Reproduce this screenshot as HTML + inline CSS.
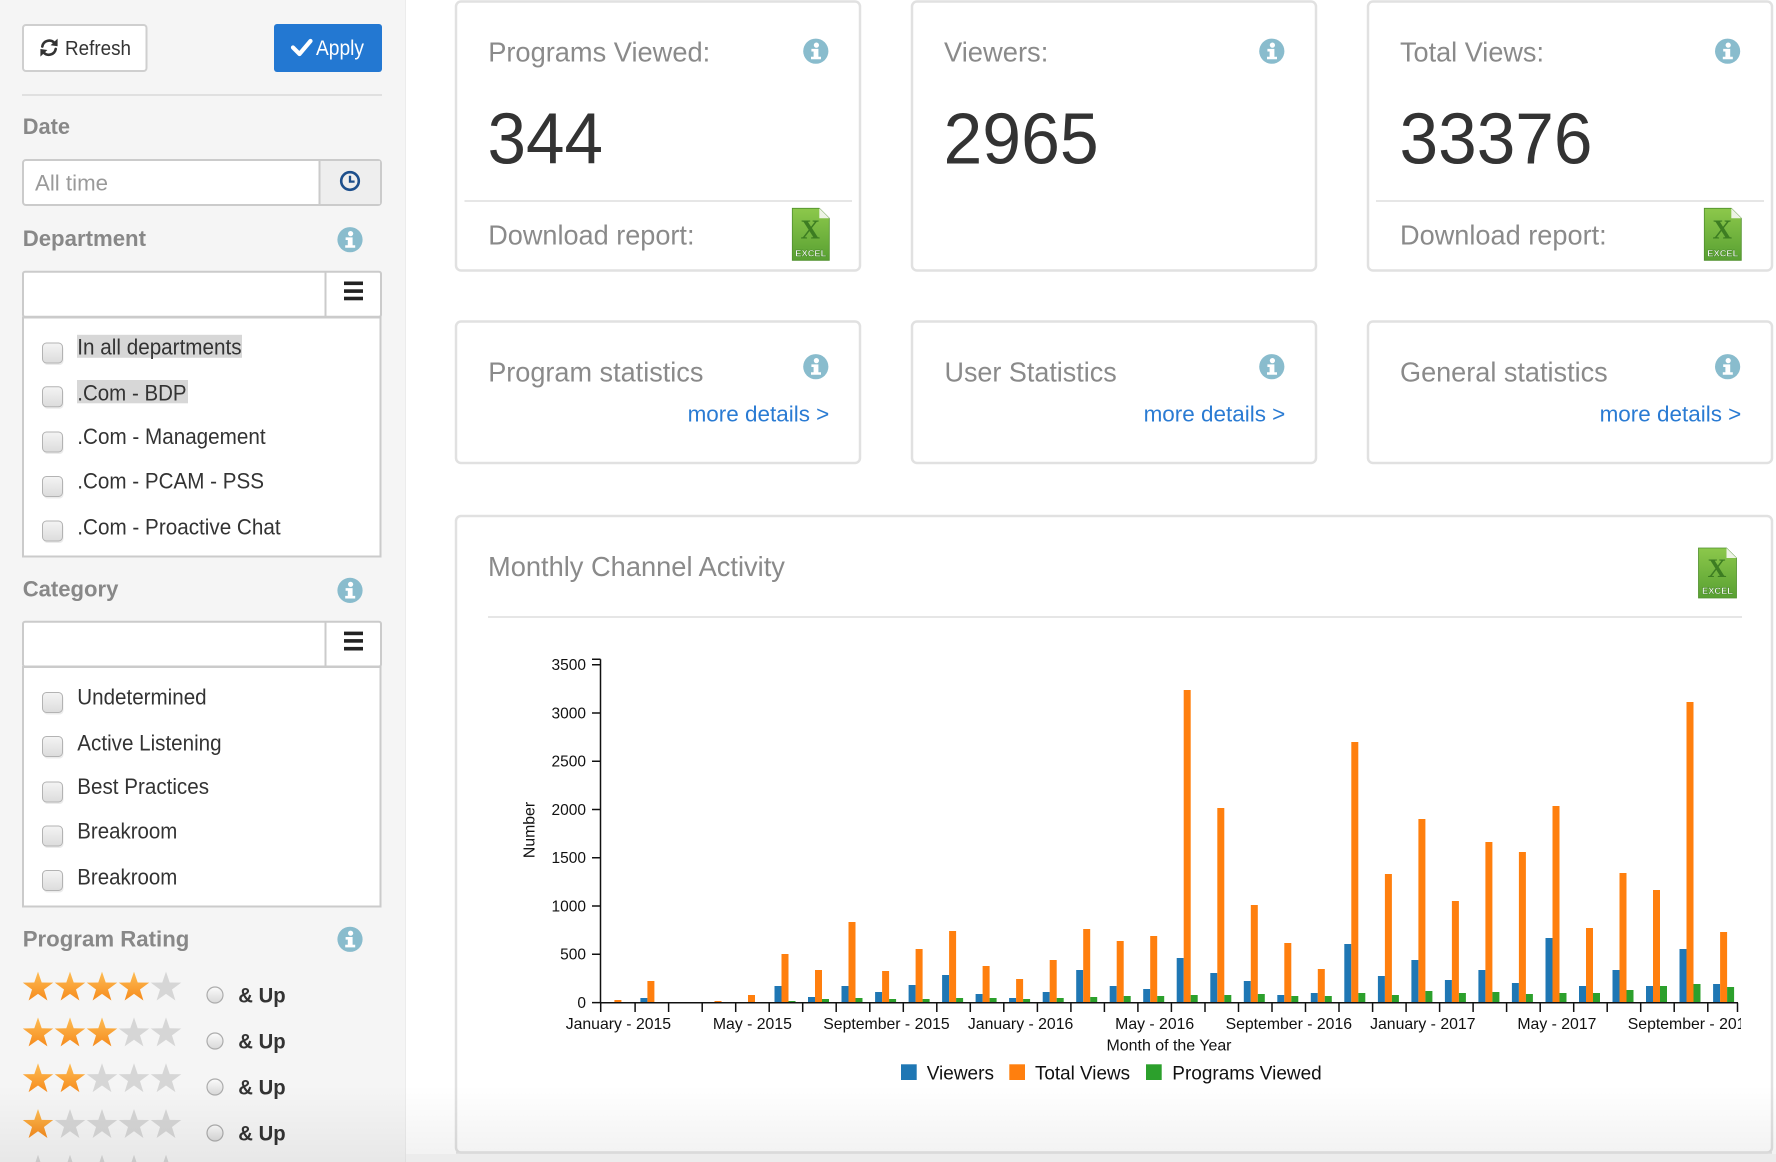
<!DOCTYPE html>
<html>
<head>
<meta charset="utf-8">
<style>
html,body{margin:0;padding:0;background:#fff;width:1776px;height:1162px;overflow:hidden;}
svg{display:block;}
</style>
</head>
<body>
<svg width="1776" height="1162" viewBox="0 0 1776 1162" xmlns="http://www.w3.org/2000/svg" font-family="'Liberation Sans', Arial, Helvetica, sans-serif">
<defs>
  <linearGradient id="starO" x1="0" y1="0" x2="0" y2="1">
    <stop offset="0" stop-color="#fdbd55"/><stop offset="1" stop-color="#f68b1c"/>
  </linearGradient>
  <linearGradient id="cbg" x1="0" y1="0" x2="0" y2="1">
    <stop offset="0" stop-color="#f4f4f4"/><stop offset="1" stop-color="#dcdcdc"/>
  </linearGradient>
  <linearGradient id="rg" x1="0" y1="0" x2="0" y2="1">
    <stop offset="0" stop-color="#fbfbfb"/><stop offset="1" stop-color="#d8d8d8"/>
  </linearGradient>
  <linearGradient id="xl" x1="0" y1="0" x2="0" y2="1">
    <stop offset="0" stop-color="#8cc84b"/><stop offset="1" stop-color="#58a032"/>
  </linearGradient>
  <linearGradient id="fade" x1="0" y1="0" x2="0" y2="1">
    <stop offset="0" stop-color="#000" stop-opacity="0"/><stop offset="1" stop-color="#000" stop-opacity="0.055"/>
  </linearGradient>
  <clipPath id="chartclip"><rect x="440" y="600" width="1301" height="500"/></clipPath>
</defs>

<!-- Sidebar -->
<rect x="0" y="0" width="405" height="1162" fill="#f5f5f5"/>
<line x1="405.5" y1="0" x2="405.5" y2="1162" stroke="#ececec" stroke-width="1"/>

<!-- Refresh button -->
<rect x="23" y="25" width="123.5" height="46" rx="3" fill="#fff" stroke="#cfcfcf" stroke-width="2"/>
<g stroke="#333" stroke-width="2.6" fill="none" stroke-linecap="round">
  <path d="M42.3 46.5 A7 7 0 0 1 54.6 43.2"/>
  <path d="M55.7 49 A7 7 0 0 1 43.4 52.2"/>
</g>
<polygon points="57.6,38.6 57.6,46.2 50.6,45.2" fill="#333"/>
<polygon points="40.4,56.6 40.4,49 47.4,50" fill="#333"/>
<text x="65" y="54.8" font-size="20.5" fill="#333" textLength="66" lengthAdjust="spacingAndGlyphs">Refresh</text>

<!-- Apply button -->
<rect x="274" y="24" width="108" height="48" rx="3" fill="#2378d2"/>
<polyline points="293,47.5 299.5,54 310.5,41" fill="none" stroke="#fff" stroke-width="4.2" stroke-linecap="round" stroke-linejoin="round"/>
<text x="316" y="55" font-size="21" fill="#fff" textLength="48" lengthAdjust="spacingAndGlyphs">Apply</text>

<line x1="22" y1="95" x2="382" y2="95" stroke="#e0e0e0" stroke-width="2"/>

<!-- Date -->
<text x="22.7" y="134" font-size="22.5" font-weight="bold" fill="#888" textLength="47.3" lengthAdjust="spacingAndGlyphs">Date</text>
<rect x="23" y="160" width="358" height="45" rx="3" fill="#fff" stroke="#cbcbcb" stroke-width="2"/>
<rect x="320" y="161" width="60" height="43" fill="#eeeeee"/>
<line x1="319.5" y1="160" x2="319.5" y2="205" stroke="#cbcbcb" stroke-width="2"/>
<text x="35" y="190.5" font-size="22.5" fill="#9a9a9a" textLength="73" lengthAdjust="spacingAndGlyphs">All time</text>
<circle cx="350" cy="181" r="8.8" fill="none" stroke="#1d4f8c" stroke-width="2.6"/>
<path d="M350 175.8 V181.6 H354.6" fill="none" stroke="#1d4f8c" stroke-width="2.3"/>

<!-- Department -->
<text x="22.7" y="246" font-size="22.5" font-weight="bold" fill="#888" textLength="123.3" lengthAdjust="spacingAndGlyphs">Department</text>
<g>
  <circle cx="350" cy="239.7" r="12.6" fill="#89bccd"/>
  <circle cx="350.6" cy="233.6" r="2.6" fill="#fff"/>
  <path d="M345.6 237.4 H352.6 V245.2 H355.2 V247.8 H345.2 V245.2 H347.8 V240 H345.6 Z" fill="#fff"/>
</g>
<rect x="23" y="271.8" width="358" height="45" rx="2" fill="#fff" stroke="#cbcbcb" stroke-width="2"/>
<line x1="325.5" y1="271" x2="325.5" y2="317" stroke="#cbcbcb" stroke-width="2"/>
<rect x="344" y="281.5" width="19" height="3.6" fill="#222"/>
<rect x="344" y="289.3" width="19" height="3.6" fill="#222"/>
<rect x="344" y="296.7" width="19" height="3.6" fill="#222"/>
<rect x="23" y="317.5" width="357.5" height="239" fill="#fff" stroke="#cbcbcb" stroke-width="2"/>

<rect x="77" y="334.8" width="165" height="23" fill="#d7d7d7"/>
<rect x="77" y="380" width="111" height="23.3" fill="#d7d7d7"/>

<g>
  <rect x="43.5" y="345" width="20" height="20" rx="4" fill="#000" fill-opacity="0.08"/>
  <rect x="42.5" y="343" width="20" height="20" rx="4" fill="url(#cbg)" stroke="#b3b3b3" stroke-width="1"/>
  <rect x="43.5" y="388.8" width="20" height="20" rx="4" fill="#000" fill-opacity="0.08"/>
  <rect x="42.5" y="386.8" width="20" height="20" rx="4" fill="url(#cbg)" stroke="#b3b3b3" stroke-width="1"/>
  <rect x="43.5" y="434" width="20" height="20" rx="4" fill="#000" fill-opacity="0.08"/>
  <rect x="42.5" y="432" width="20" height="20" rx="4" fill="url(#cbg)" stroke="#b3b3b3" stroke-width="1"/>
  <rect x="43.5" y="478.5" width="20" height="20" rx="4" fill="#000" fill-opacity="0.08"/>
  <rect x="42.5" y="476.5" width="20" height="20" rx="4" fill="url(#cbg)" stroke="#b3b3b3" stroke-width="1"/>
  <rect x="43.5" y="523" width="20" height="20" rx="4" fill="#000" fill-opacity="0.08"/>
  <rect x="42.5" y="521" width="20" height="20" rx="4" fill="url(#cbg)" stroke="#b3b3b3" stroke-width="1"/>
</g>
<g font-size="22" fill="#333">
  <text x="77.3" y="354.4" textLength="164.3" lengthAdjust="spacingAndGlyphs">In all departments</text>
  <text x="77.3" y="400.7" textLength="109.3" lengthAdjust="spacingAndGlyphs">.Com - BDP</text>
  <text x="77.3" y="444" textLength="188.3" lengthAdjust="spacingAndGlyphs">.Com - Management</text>
  <text x="77.3" y="488.3" textLength="186.7" lengthAdjust="spacingAndGlyphs">.Com - PCAM - PSS</text>
  <text x="77.3" y="534.6" textLength="203.3" lengthAdjust="spacingAndGlyphs">.Com - Proactive Chat</text>
</g>

<!-- Category -->
<text x="22.7" y="596.5" font-size="22.5" font-weight="bold" fill="#888" textLength="95.7" lengthAdjust="spacingAndGlyphs">Category</text>
<g>
  <circle cx="350" cy="590.4" r="12.6" fill="#89bccd"/>
  <circle cx="350.6" cy="584.3" r="2.6" fill="#fff"/>
  <path d="M345.6 588.1 H352.6 V595.9 H355.2 V598.5 H345.2 V595.9 H347.8 V590.7 H345.6 Z" fill="#fff"/>
</g>
<rect x="23" y="621.8" width="358" height="44.7" rx="2" fill="#fff" stroke="#cbcbcb" stroke-width="2"/>
<line x1="325.5" y1="621" x2="325.5" y2="666.5" stroke="#cbcbcb" stroke-width="2"/>
<rect x="344" y="631.6" width="19" height="3.6" fill="#222"/>
<rect x="344" y="639.1" width="19" height="3.6" fill="#222"/>
<rect x="344" y="646.9" width="19" height="3.6" fill="#222"/>
<rect x="23" y="667" width="357.5" height="239.5" fill="#fff" stroke="#cbcbcb" stroke-width="2"/>
<g>
  <rect x="43.5" y="694.5" width="20" height="20" rx="4" fill="#000" fill-opacity="0.08"/>
  <rect x="42.5" y="692.5" width="20" height="20" rx="4" fill="url(#cbg)" stroke="#b3b3b3" stroke-width="1"/>
  <rect x="43.5" y="738.5" width="20" height="20" rx="4" fill="#000" fill-opacity="0.08"/>
  <rect x="42.5" y="736.5" width="20" height="20" rx="4" fill="url(#cbg)" stroke="#b3b3b3" stroke-width="1"/>
  <rect x="43.5" y="784" width="20" height="20" rx="4" fill="#000" fill-opacity="0.08"/>
  <rect x="42.5" y="782" width="20" height="20" rx="4" fill="url(#cbg)" stroke="#b3b3b3" stroke-width="1"/>
  <rect x="43.5" y="828" width="20" height="20" rx="4" fill="#000" fill-opacity="0.08"/>
  <rect x="42.5" y="826" width="20" height="20" rx="4" fill="url(#cbg)" stroke="#b3b3b3" stroke-width="1"/>
  <rect x="43.5" y="872.5" width="20" height="20" rx="4" fill="#000" fill-opacity="0.08"/>
  <rect x="42.5" y="870.5" width="20" height="20" rx="4" fill="url(#cbg)" stroke="#b3b3b3" stroke-width="1"/>
</g>
<g font-size="22" fill="#333">
  <text x="77.3" y="704.4" textLength="129.3" lengthAdjust="spacingAndGlyphs">Undetermined</text>
  <text x="77.3" y="750.7" textLength="144.3" lengthAdjust="spacingAndGlyphs">Active Listening</text>
  <text x="77.3" y="794" textLength="131.7" lengthAdjust="spacingAndGlyphs">Best Practices</text>
  <text x="77.3" y="838.3" textLength="100" lengthAdjust="spacingAndGlyphs">Breakroom</text>
  <text x="77.3" y="884.6" textLength="100" lengthAdjust="spacingAndGlyphs">Breakroom</text>
</g>

<!-- Program Rating -->
<text x="22.7" y="946.5" font-size="22.5" font-weight="bold" fill="#888" textLength="166.7" lengthAdjust="spacingAndGlyphs">Program Rating</text>
<g>
  <circle cx="350" cy="939.3" r="12.6" fill="#89bccd"/>
  <circle cx="350.6" cy="933.2" r="2.6" fill="#fff"/>
  <path d="M345.6 937 H352.6 V944.8 H355.2 V947.4 H345.2 V944.8 H347.8 V939.6 H345.6 Z" fill="#fff"/>
</g>

<!-- Stars -->
<g>
  <polygon transform="translate(38,987.6)" fill="url(#starO)" points="0,-16 3.7,-5.1 15.22,-4.94 5.99,1.95 9.4,12.94 0,6.3 -9.4,12.94 -5.99,1.95 -15.22,-4.94 -3.7,-5.1"/>
  <polygon transform="translate(70,987.6)" fill="url(#starO)" points="0,-16 3.7,-5.1 15.22,-4.94 5.99,1.95 9.4,12.94 0,6.3 -9.4,12.94 -5.99,1.95 -15.22,-4.94 -3.7,-5.1"/>
  <polygon transform="translate(102,987.6)" fill="url(#starO)" points="0,-16 3.7,-5.1 15.22,-4.94 5.99,1.95 9.4,12.94 0,6.3 -9.4,12.94 -5.99,1.95 -15.22,-4.94 -3.7,-5.1"/>
  <polygon transform="translate(134,987.6)" fill="url(#starO)" points="0,-16 3.7,-5.1 15.22,-4.94 5.99,1.95 9.4,12.94 0,6.3 -9.4,12.94 -5.99,1.95 -15.22,-4.94 -3.7,-5.1"/>
  <polygon transform="translate(166,987.6)" fill="#d6d6d6" points="0,-16 3.7,-5.1 15.22,-4.94 5.99,1.95 9.4,12.94 0,6.3 -9.4,12.94 -5.99,1.95 -15.22,-4.94 -3.7,-5.1"/>

  <polygon transform="translate(38,1033.4)" fill="url(#starO)" points="0,-16 3.7,-5.1 15.22,-4.94 5.99,1.95 9.4,12.94 0,6.3 -9.4,12.94 -5.99,1.95 -15.22,-4.94 -3.7,-5.1"/>
  <polygon transform="translate(70,1033.4)" fill="url(#starO)" points="0,-16 3.7,-5.1 15.22,-4.94 5.99,1.95 9.4,12.94 0,6.3 -9.4,12.94 -5.99,1.95 -15.22,-4.94 -3.7,-5.1"/>
  <polygon transform="translate(102,1033.4)" fill="url(#starO)" points="0,-16 3.7,-5.1 15.22,-4.94 5.99,1.95 9.4,12.94 0,6.3 -9.4,12.94 -5.99,1.95 -15.22,-4.94 -3.7,-5.1"/>
  <polygon transform="translate(134,1033.4)" fill="#d6d6d6" points="0,-16 3.7,-5.1 15.22,-4.94 5.99,1.95 9.4,12.94 0,6.3 -9.4,12.94 -5.99,1.95 -15.22,-4.94 -3.7,-5.1"/>
  <polygon transform="translate(166,1033.4)" fill="#d6d6d6" points="0,-16 3.7,-5.1 15.22,-4.94 5.99,1.95 9.4,12.94 0,6.3 -9.4,12.94 -5.99,1.95 -15.22,-4.94 -3.7,-5.1"/>

  <polygon transform="translate(38,1079.2)" fill="url(#starO)" points="0,-16 3.7,-5.1 15.22,-4.94 5.99,1.95 9.4,12.94 0,6.3 -9.4,12.94 -5.99,1.95 -15.22,-4.94 -3.7,-5.1"/>
  <polygon transform="translate(70,1079.2)" fill="url(#starO)" points="0,-16 3.7,-5.1 15.22,-4.94 5.99,1.95 9.4,12.94 0,6.3 -9.4,12.94 -5.99,1.95 -15.22,-4.94 -3.7,-5.1"/>
  <polygon transform="translate(102,1079.2)" fill="#d6d6d6" points="0,-16 3.7,-5.1 15.22,-4.94 5.99,1.95 9.4,12.94 0,6.3 -9.4,12.94 -5.99,1.95 -15.22,-4.94 -3.7,-5.1"/>
  <polygon transform="translate(134,1079.2)" fill="#d6d6d6" points="0,-16 3.7,-5.1 15.22,-4.94 5.99,1.95 9.4,12.94 0,6.3 -9.4,12.94 -5.99,1.95 -15.22,-4.94 -3.7,-5.1"/>
  <polygon transform="translate(166,1079.2)" fill="#d6d6d6" points="0,-16 3.7,-5.1 15.22,-4.94 5.99,1.95 9.4,12.94 0,6.3 -9.4,12.94 -5.99,1.95 -15.22,-4.94 -3.7,-5.1"/>

  <polygon transform="translate(38,1125)" fill="url(#starO)" points="0,-16 3.7,-5.1 15.22,-4.94 5.99,1.95 9.4,12.94 0,6.3 -9.4,12.94 -5.99,1.95 -15.22,-4.94 -3.7,-5.1"/>
  <polygon transform="translate(70,1125)" fill="#d6d6d6" points="0,-16 3.7,-5.1 15.22,-4.94 5.99,1.95 9.4,12.94 0,6.3 -9.4,12.94 -5.99,1.95 -15.22,-4.94 -3.7,-5.1"/>
  <polygon transform="translate(102,1125)" fill="#d6d6d6" points="0,-16 3.7,-5.1 15.22,-4.94 5.99,1.95 9.4,12.94 0,6.3 -9.4,12.94 -5.99,1.95 -15.22,-4.94 -3.7,-5.1"/>
  <polygon transform="translate(134,1125)" fill="#d6d6d6" points="0,-16 3.7,-5.1 15.22,-4.94 5.99,1.95 9.4,12.94 0,6.3 -9.4,12.94 -5.99,1.95 -15.22,-4.94 -3.7,-5.1"/>
  <polygon transform="translate(166,1125)" fill="#d6d6d6" points="0,-16 3.7,-5.1 15.22,-4.94 5.99,1.95 9.4,12.94 0,6.3 -9.4,12.94 -5.99,1.95 -15.22,-4.94 -3.7,-5.1"/>

  <polygon transform="translate(38,1170.8)" fill="#d6d6d6" points="0,-16 3.7,-5.1 15.22,-4.94 5.99,1.95 9.4,12.94 0,6.3 -9.4,12.94 -5.99,1.95 -15.22,-4.94 -3.7,-5.1"/>
  <polygon transform="translate(70,1170.8)" fill="#d6d6d6" points="0,-16 3.7,-5.1 15.22,-4.94 5.99,1.95 9.4,12.94 0,6.3 -9.4,12.94 -5.99,1.95 -15.22,-4.94 -3.7,-5.1"/>
  <polygon transform="translate(102,1170.8)" fill="#d6d6d6" points="0,-16 3.7,-5.1 15.22,-4.94 5.99,1.95 9.4,12.94 0,6.3 -9.4,12.94 -5.99,1.95 -15.22,-4.94 -3.7,-5.1"/>
  <polygon transform="translate(134,1170.8)" fill="#d6d6d6" points="0,-16 3.7,-5.1 15.22,-4.94 5.99,1.95 9.4,12.94 0,6.3 -9.4,12.94 -5.99,1.95 -15.22,-4.94 -3.7,-5.1"/>
  <polygon transform="translate(166,1170.8)" fill="#d6d6d6" points="0,-16 3.7,-5.1 15.22,-4.94 5.99,1.95 9.4,12.94 0,6.3 -9.4,12.94 -5.99,1.95 -15.22,-4.94 -3.7,-5.1"/>
</g>
<g fill="url(#rg)" stroke="#acacac" stroke-width="1.2">
  <circle cx="215" cy="995" r="8"/>
  <circle cx="215" cy="1041" r="8"/>
  <circle cx="215" cy="1087" r="8"/>
  <circle cx="215" cy="1133" r="8"/>
</g>
<g font-size="21.5" font-weight="bold" fill="#333">
  <text x="238.3" y="1002.4" textLength="47.3" lengthAdjust="spacingAndGlyphs">&amp; Up</text>
  <text x="238.3" y="1048.4" textLength="47.3" lengthAdjust="spacingAndGlyphs">&amp; Up</text>
  <text x="238.3" y="1094.4" textLength="47.3" lengthAdjust="spacingAndGlyphs">&amp; Up</text>
  <text x="238.3" y="1140.4" textLength="47.3" lengthAdjust="spacingAndGlyphs">&amp; Up</text>
</g>

<!-- ===== Main cards ===== -->
<g fill="#fff" stroke="#e1e1e1" stroke-width="2.5">
  <rect x="456" y="1.5" width="404" height="269" rx="5"/>
  <rect x="912" y="1.5" width="404" height="269" rx="5"/>
  <rect x="1368" y="1.5" width="404" height="269" rx="5"/>
  <rect x="456" y="321.5" width="404" height="141.5" rx="5"/>
  <rect x="912" y="321.5" width="404" height="141.5" rx="5"/>
  <rect x="1368" y="321.5" width="404" height="141.5" rx="5"/>
  <rect x="456" y="516" width="1316" height="636.5" rx="5"/>
</g>

<g font-size="28" fill="#8a8a8a">
  <text x="488.2" y="61.7" textLength="222" lengthAdjust="spacingAndGlyphs">Programs Viewed:</text>
  <text x="944" y="61.7" textLength="104.3" lengthAdjust="spacingAndGlyphs">Viewers:</text>
  <text x="1400" y="61.7" textLength="144" lengthAdjust="spacingAndGlyphs">Total Views:</text>
  <text x="488.2" y="244.3" textLength="206.3" lengthAdjust="spacingAndGlyphs">Download report:</text>
  <text x="1400" y="244.3" textLength="206.7" lengthAdjust="spacingAndGlyphs">Download report:</text>
  <text x="488.2" y="381.7" textLength="215.2" lengthAdjust="spacingAndGlyphs">Program statistics</text>
  <text x="944.5" y="381.7" textLength="172.2" lengthAdjust="spacingAndGlyphs">User Statistics</text>
  <text x="1400" y="381.7" textLength="207.7" lengthAdjust="spacingAndGlyphs">General statistics</text>
</g>
<g font-size="72" fill="#333">
  <text x="487.5" y="163.3" textLength="115.5" lengthAdjust="spacingAndGlyphs">344</text>
  <text x="943.5" y="163.3" textLength="155.2" lengthAdjust="spacingAndGlyphs">2965</text>
  <text x="1399.5" y="163.3" textLength="193" lengthAdjust="spacingAndGlyphs">33376</text>
</g>
<g font-size="22" fill="#2a7bd3" text-anchor="end">
  <text x="829.3" y="421.7" textLength="141.7" lengthAdjust="spacingAndGlyphs">more details &gt;</text>
  <text x="1285.3" y="421.7" textLength="141.7" lengthAdjust="spacingAndGlyphs">more details &gt;</text>
  <text x="1741.3" y="421.7" textLength="141.7" lengthAdjust="spacingAndGlyphs">more details &gt;</text>
</g>

<line x1="464.5" y1="201" x2="852" y2="201" stroke="#e6e6e6" stroke-width="2"/>
<line x1="1376" y1="201" x2="1764" y2="201" stroke="#e6e6e6" stroke-width="2"/>

<!-- info icons in cards -->
<g>
  <circle cx="815.8" cy="51.2" r="12.6" fill="#89bccd"/>
  <circle cx="816.4" cy="45.1" r="2.6" fill="#fff"/>
  <path d="M811.4 48.9 H818.4 V56.7 H821 V59.3 H811 V56.7 H813.6 V51.5 H811.4 Z" fill="#fff"/>
  <circle cx="1271.8" cy="51.2" r="12.6" fill="#89bccd"/>
  <circle cx="1272.4" cy="45.1" r="2.6" fill="#fff"/>
  <path d="M1267.4 48.9 H1274.4 V56.7 H1277 V59.3 H1267 V56.7 H1269.6 V51.5 H1267.4 Z" fill="#fff"/>
  <circle cx="1727.6" cy="51.2" r="12.6" fill="#89bccd"/>
  <circle cx="1728.2" cy="45.1" r="2.6" fill="#fff"/>
  <path d="M1723.2 48.9 H1730.2 V56.7 H1732.8 V59.3 H1722.8 V56.7 H1725.4 V51.5 H1723.2 Z" fill="#fff"/>
  <circle cx="815.8" cy="366.7" r="12.6" fill="#89bccd"/>
  <circle cx="816.4" cy="360.6" r="2.6" fill="#fff"/>
  <path d="M811.4 364.4 H818.4 V372.2 H821 V374.8 H811 V372.2 H813.6 V367 H811.4 Z" fill="#fff"/>
  <circle cx="1271.8" cy="366.7" r="12.6" fill="#89bccd"/>
  <circle cx="1272.4" cy="360.6" r="2.6" fill="#fff"/>
  <path d="M1267.4 364.4 H1274.4 V372.2 H1277 V374.8 H1267 V372.2 H1269.6 V367 H1267.4 Z" fill="#fff"/>
  <circle cx="1727.6" cy="366.7" r="12.6" fill="#89bccd"/>
  <circle cx="1728.2" cy="360.6" r="2.6" fill="#fff"/>
  <path d="M1723.2 364.4 H1730.2 V372.2 H1732.8 V374.8 H1722.8 V372.2 H1725.4 V367 H1723.2 Z" fill="#fff"/>
</g>

<!-- Excel icons -->
<g transform="translate(792.3,208.3)">
  <path d="M0 0 H27 L37 10 V52 H0 Z" fill="url(#xl)" stroke="#4f8f2c" stroke-width="0.8"/>
  <path d="M27 0 L37 10 H27 Z" fill="#eef3e6"/>
  <text x="18" y="30" font-family="'Liberation Serif', serif" font-size="27" font-weight="bold" fill="#3d7d22" text-anchor="middle">X</text>
  <text x="18.5" y="48" font-size="9.5" font-weight="bold" fill="#fff" text-anchor="middle" textLength="31" lengthAdjust="spacingAndGlyphs" stroke="#3d7d22" stroke-width="0.4">EXCEL</text>
</g>
<g transform="translate(1704.3,208.3)">
  <path d="M0 0 H27 L37 10 V52 H0 Z" fill="url(#xl)" stroke="#4f8f2c" stroke-width="0.8"/>
  <path d="M27 0 L37 10 H27 Z" fill="#eef3e6"/>
  <text x="18" y="30" font-family="'Liberation Serif', serif" font-size="27" font-weight="bold" fill="#3d7d22" text-anchor="middle">X</text>
  <text x="18.5" y="48" font-size="9.5" font-weight="bold" fill="#fff" text-anchor="middle" textLength="31" lengthAdjust="spacingAndGlyphs" stroke="#3d7d22" stroke-width="0.4">EXCEL</text>
</g>
<g transform="translate(1698.5,548)">
  <path d="M0 0 H28 L38 10 V50 H0 Z" fill="url(#xl)" stroke="#4f8f2c" stroke-width="0.8"/>
  <path d="M28 0 L38 10 H28 Z" fill="#eef3e6"/>
  <text x="18.5" y="29" font-family="'Liberation Serif', serif" font-size="26" font-weight="bold" fill="#3d7d22" text-anchor="middle">X</text>
  <text x="19" y="46" font-size="9.5" font-weight="bold" fill="#fff" text-anchor="middle" textLength="31" lengthAdjust="spacingAndGlyphs" stroke="#3d7d22" stroke-width="0.4">EXCEL</text>
</g>

<!-- Chart card header -->
<text x="488" y="576" font-size="27.5" fill="#8a8a8a" textLength="296.9" lengthAdjust="spacingAndGlyphs">Monthly Channel Activity</text>
<line x1="488" y1="617" x2="1742" y2="617" stroke="#e6e6e6" stroke-width="2"/>

<!-- Bars -->
<g fill="#1f77b4">
  <rect x="640.4" y="998" width="7" height="4.5"/>
  <rect x="774.5" y="986" width="7" height="16.5"/>
  <rect x="808.0" y="997" width="7" height="5.5"/>
  <rect x="841.5" y="986" width="7" height="16.5"/>
  <rect x="875.1" y="992" width="7" height="10.5"/>
  <rect x="908.6" y="985" width="7" height="17.5"/>
  <rect x="942.1" y="975" width="7" height="27.5"/>
  <rect x="975.6" y="994" width="7" height="8.5"/>
  <rect x="1009.1" y="998" width="7" height="4.5"/>
  <rect x="1042.7" y="992" width="7" height="10.5"/>
  <rect x="1076.2" y="970" width="7" height="32.5"/>
  <rect x="1109.7" y="986" width="7" height="16.5"/>
  <rect x="1143.2" y="989" width="7" height="13.5"/>
  <rect x="1176.7" y="958" width="7" height="44.5"/>
  <rect x="1210.3" y="973" width="7" height="29.5"/>
  <rect x="1243.8" y="981" width="7" height="21.5"/>
  <rect x="1277.3" y="995" width="7" height="7.5"/>
  <rect x="1310.8" y="993" width="7" height="9.5"/>
  <rect x="1344.3" y="944" width="7" height="58.5"/>
  <rect x="1377.9" y="976" width="7" height="26.5"/>
  <rect x="1411.4" y="960" width="7" height="42.5"/>
  <rect x="1444.9" y="980" width="7" height="22.5"/>
  <rect x="1478.4" y="970" width="7" height="32.5"/>
  <rect x="1511.9" y="983" width="7" height="19.5"/>
  <rect x="1545.5" y="938" width="7" height="64.5"/>
  <rect x="1579.0" y="986" width="7" height="16.5"/>
  <rect x="1612.5" y="970" width="7" height="32.5"/>
  <rect x="1646.0" y="986" width="7" height="16.5"/>
  <rect x="1679.5" y="949" width="7" height="53.5"/>
  <rect x="1713.1" y="984" width="7" height="18.5"/>
</g>
<g fill="#ff7f0e">
  <rect x="614.4" y="1000" width="7" height="2.5"/>
  <rect x="647.4" y="981" width="7" height="21.5"/>
  <rect x="714.5" y="1001" width="7" height="1.5"/>
  <rect x="748.0" y="995" width="7" height="7.5"/>
  <rect x="781.5" y="954" width="7" height="48.5"/>
  <rect x="815.0" y="970" width="7" height="32.5"/>
  <rect x="848.5" y="922" width="7" height="80.5"/>
  <rect x="882.1" y="971" width="7" height="31.5"/>
  <rect x="915.6" y="949" width="7" height="53.5"/>
  <rect x="949.1" y="931" width="7" height="71.5"/>
  <rect x="982.6" y="966" width="7" height="36.5"/>
  <rect x="1016.1" y="979" width="7" height="23.5"/>
  <rect x="1049.7" y="960" width="7" height="42.5"/>
  <rect x="1083.2" y="929" width="7" height="73.5"/>
  <rect x="1116.7" y="941" width="7" height="61.5"/>
  <rect x="1150.2" y="936" width="7" height="66.5"/>
  <rect x="1183.7" y="690" width="7" height="312.5"/>
  <rect x="1217.3" y="808" width="7" height="194.5"/>
  <rect x="1250.8" y="905" width="7" height="97.5"/>
  <rect x="1284.3" y="943" width="7" height="59.5"/>
  <rect x="1317.8" y="969" width="7" height="33.5"/>
  <rect x="1351.3" y="742" width="7" height="260.5"/>
  <rect x="1384.9" y="874" width="7" height="128.5"/>
  <rect x="1418.4" y="819" width="7" height="183.5"/>
  <rect x="1451.9" y="901" width="7" height="101.5"/>
  <rect x="1485.4" y="842" width="7" height="160.5"/>
  <rect x="1518.9" y="852" width="7" height="150.5"/>
  <rect x="1552.5" y="806" width="7" height="196.5"/>
  <rect x="1586.0" y="928" width="7" height="74.5"/>
  <rect x="1619.5" y="873" width="7" height="129.5"/>
  <rect x="1653.0" y="890" width="7" height="112.5"/>
  <rect x="1686.5" y="702" width="7" height="300.5"/>
  <rect x="1720.1" y="932" width="7" height="70.5"/>
</g>
<g fill="#2ca02c">
  <rect x="788.5" y="1001" width="7" height="1.5"/>
  <rect x="822.0" y="999" width="7" height="3.5"/>
  <rect x="855.5" y="998" width="7" height="4.5"/>
  <rect x="889.1" y="999" width="7" height="3.5"/>
  <rect x="922.6" y="999" width="7" height="3.5"/>
  <rect x="956.1" y="998" width="7" height="4.5"/>
  <rect x="989.6" y="998" width="7" height="4.5"/>
  <rect x="1023.1" y="999" width="7" height="3.5"/>
  <rect x="1056.7" y="998" width="7" height="4.5"/>
  <rect x="1090.2" y="997" width="7" height="5.5"/>
  <rect x="1123.7" y="996" width="7" height="6.5"/>
  <rect x="1157.2" y="996" width="7" height="6.5"/>
  <rect x="1190.7" y="995" width="7" height="7.5"/>
  <rect x="1224.3" y="995" width="7" height="7.5"/>
  <rect x="1257.8" y="994" width="7" height="8.5"/>
  <rect x="1291.3" y="996" width="7" height="6.5"/>
  <rect x="1324.8" y="996" width="7" height="6.5"/>
  <rect x="1358.3" y="993" width="7" height="9.5"/>
  <rect x="1391.9" y="995" width="7" height="7.5"/>
  <rect x="1425.4" y="991" width="7" height="11.5"/>
  <rect x="1458.9" y="993" width="7" height="9.5"/>
  <rect x="1492.4" y="992" width="7" height="10.5"/>
  <rect x="1525.9" y="994" width="7" height="8.5"/>
  <rect x="1559.5" y="993" width="7" height="9.5"/>
  <rect x="1593.0" y="993" width="7" height="9.5"/>
  <rect x="1626.5" y="990" width="7" height="12.5"/>
  <rect x="1660.0" y="986" width="7" height="16.5"/>
  <rect x="1693.5" y="984" width="7" height="18.5"/>
  <rect x="1727.1" y="987" width="7" height="15.5"/>
</g>

<!-- Axes -->
<g stroke="#111" stroke-width="1.5" fill="none">
  <path d="M600.5 659.3 V1002.7"/>
  <path d="M592 659.3 H600.5 M592 664.7 H600.5 M592 713 H600.5 M592 761.2 H600.5 M592 809.5 H600.5 M592 857.8 H600.5 M592 906 H600.5 M592 954.3 H600.5 M592 1002.6 H600.5"/>
  <path d="M600 1002.7 H1738"/>
  <path d="M600.7 1002.7V1012 M635.1 1002.7V1012 M668.6 1002.7V1012 M702.2 1002.7V1012 M735.7 1002.7V1012 M769.2 1002.7V1012 M802.7 1002.7V1012 M836.2 1002.7V1012 M869.8 1002.7V1012 M903.3 1002.7V1012 M936.8 1002.7V1012 M970.3 1002.7V1012 M1003.8 1002.7V1012 M1037.4 1002.7V1012 M1070.9 1002.7V1012 M1104.4 1002.7V1012 M1137.9 1002.7V1012 M1171.4 1002.7V1012 M1205 1002.7V1012 M1238.5 1002.7V1012 M1272 1002.7V1012 M1305.5 1002.7V1012 M1339 1002.7V1012 M1372.6 1002.7V1012 M1406.1 1002.7V1012 M1439.6 1002.7V1012 M1473.1 1002.7V1012 M1506.6 1002.7V1012 M1540.2 1002.7V1012 M1573.7 1002.7V1012 M1607.2 1002.7V1012 M1640.7 1002.7V1012 M1674.2 1002.7V1012 M1707.8 1002.7V1012 M1737.5 1002.7V1012"/>
</g>
<g font-size="15.5" fill="#111" text-anchor="end">
  <text x="586" y="670.1">3500</text>
  <text x="586" y="718.4">3000</text>
  <text x="586" y="766.6">2500</text>
  <text x="586" y="814.9">2000</text>
  <text x="586" y="863.2">1500</text>
  <text x="586" y="911.4">1000</text>
  <text x="586" y="959.7">500</text>
  <text x="586" y="1008">0</text>
</g>
<text transform="translate(534.6,830) rotate(-90)" x="0" y="0" font-size="15.8" fill="#111" text-anchor="middle">Number</text>
<g font-size="15.8" fill="#111" text-anchor="middle" clip-path="url(#chartclip)">
  <text x="618.4" y="1029">January - 2015</text>
  <text x="752.4" y="1029">May - 2015</text>
  <text x="886.5" y="1029">September - 2015</text>
  <text x="1020.6" y="1029">January - 2016</text>
  <text x="1154.7" y="1029">May - 2016</text>
  <text x="1288.8" y="1029">September - 2016</text>
  <text x="1422.8" y="1029">January - 2017</text>
  <text x="1556.9" y="1029">May - 2017</text>
  <text x="1691" y="1029">September - 2017</text>
</g>
<text x="1169" y="1050.7" font-size="15.8" fill="#111" text-anchor="middle" textLength="125" lengthAdjust="spacingAndGlyphs">Month of the Year</text>

<!-- Legend -->
<rect x="901" y="1064.3" width="15.7" height="15.7" fill="#1f77b4"/>
<text x="926.7" y="1079.3" font-size="19.5" fill="#111" textLength="67.3" lengthAdjust="spacingAndGlyphs">Viewers</text>
<rect x="1009.3" y="1064.3" width="15.7" height="15.7" fill="#ff7f0e"/>
<text x="1035" y="1079.3" font-size="19.5" fill="#111" textLength="95" lengthAdjust="spacingAndGlyphs">Total Views</text>
<rect x="1146" y="1064.3" width="15.7" height="15.7" fill="#2ca02c"/>
<text x="1172.3" y="1079.3" font-size="19.5" fill="#111" textLength="149.4" lengthAdjust="spacingAndGlyphs">Programs Viewed</text>

<!-- bottom fade -->
<rect x="0" y="1085" width="1776" height="77" fill="url(#fade)"/>
<rect x="406" y="1154" width="1370" height="8" fill="#ececec"/>
<line x1="456" y1="1152.7" x2="1772" y2="1152.7" stroke="#dadada" stroke-width="2"/>
</svg>
</body>
</html>
